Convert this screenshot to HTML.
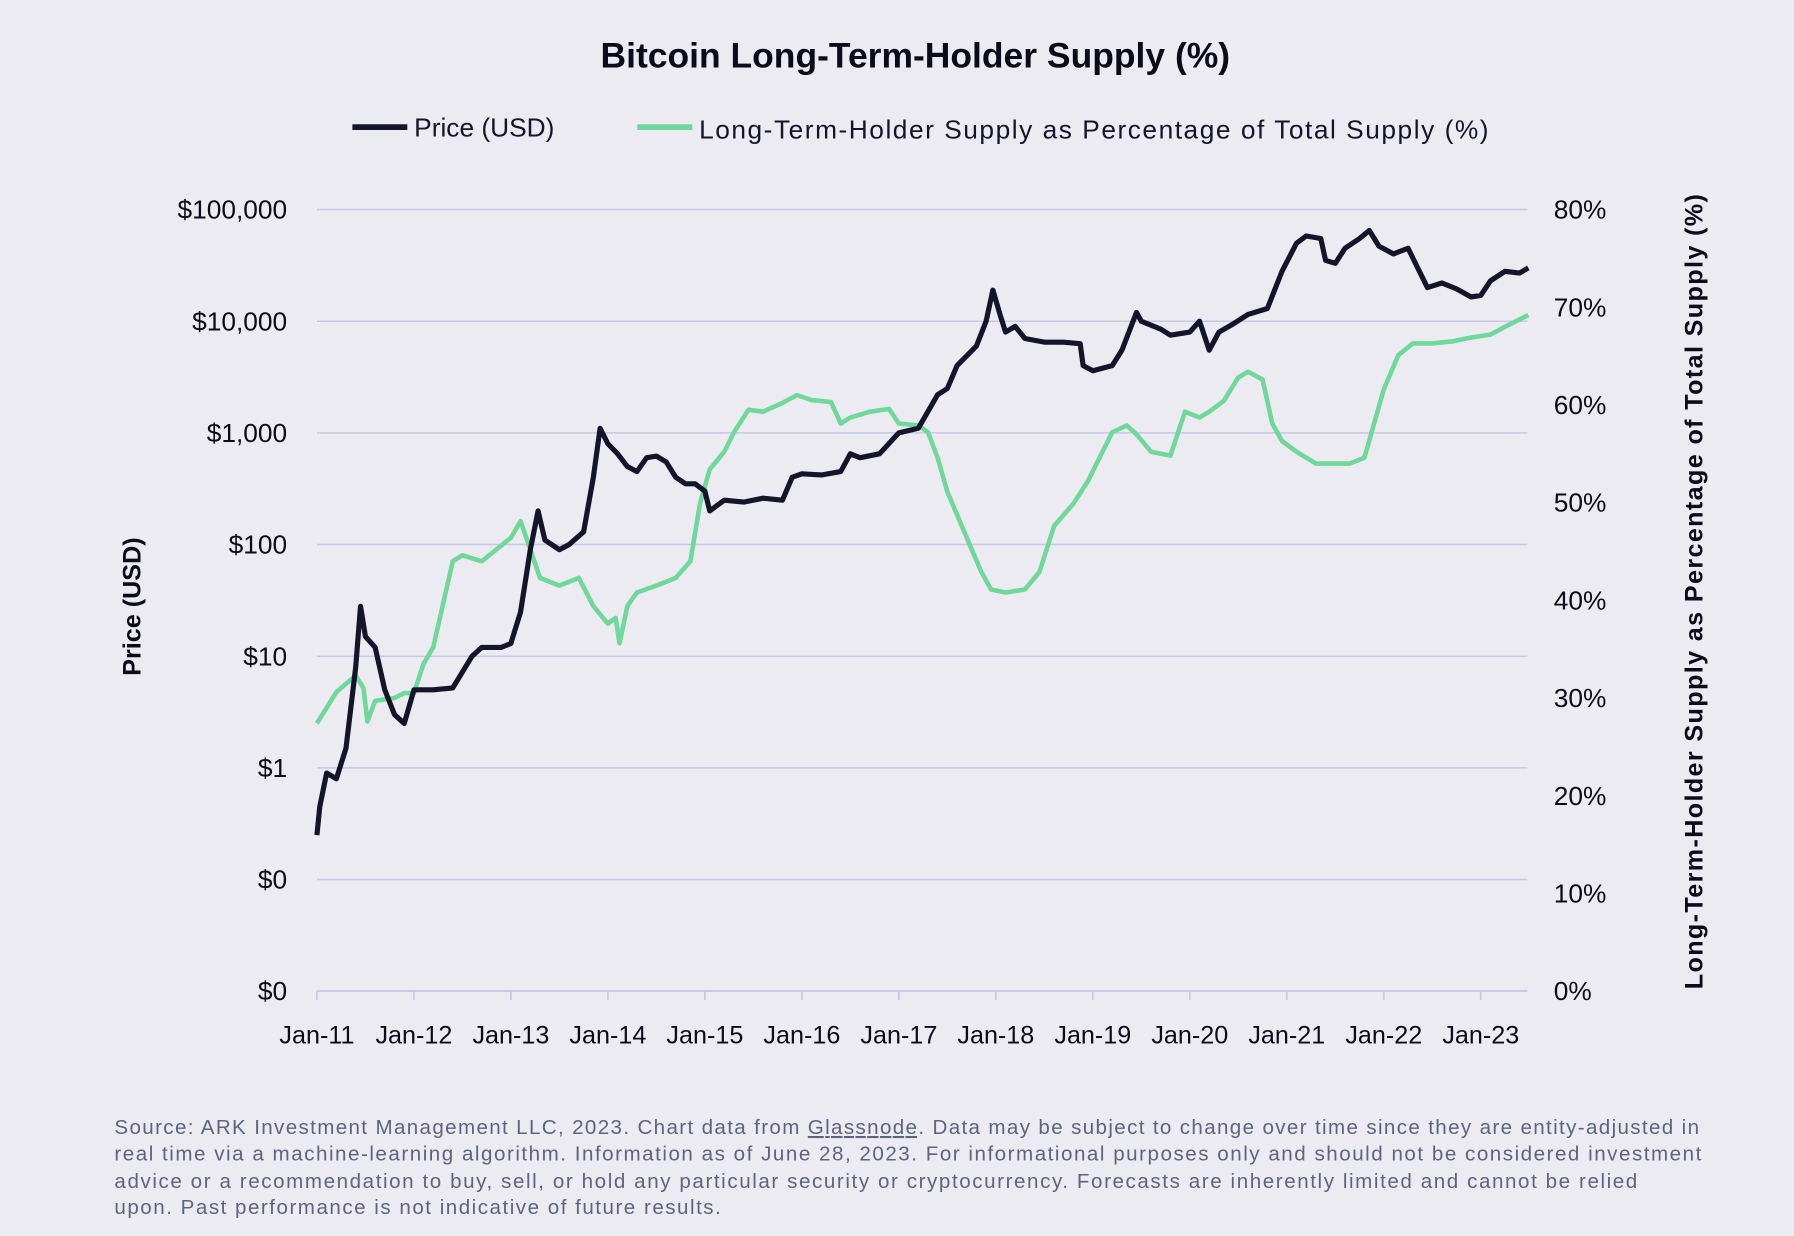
<!DOCTYPE html>
<html><head><meta charset="utf-8"><style>
html,body{margin:0;padding:0;background:#ebebf1;}
svg{display:block;font-family:"Liberation Sans",sans-serif;}
</style></head><body>
<svg id="chart" width="1794" height="1236" viewBox="0 0 1568 1080" xmlns="http://www.w3.org/2000/svg">
<rect width="1568" height="1080" fill="#ebebf1"/>
<text x="800" y="59" text-anchor="middle" font-size="31" font-weight="bold" fill="#0b0b1a">Bitcoin Long-Term-Holder Supply (%)</text>
<g>
<line x1="308" y1="111" x2="356" y2="111" stroke="#14142b" stroke-width="5"/>
<text x="362" y="119" font-size="23" fill="#14142b">Price (USD)</text>
<line x1="557" y1="111" x2="605" y2="111" stroke="#6fd89a" stroke-width="5"/>
<text x="611" y="121" font-size="23" fill="#14142b" textLength="690">Long-Term-Holder Supply as Percentage of Total Supply (%)</text>
</g>
<g id="grid"></g>
<g id="axes"></g>
<g id="series"></g>
<text transform="translate(123,530) rotate(-90)" text-anchor="middle" font-size="22" font-weight="bold" fill="#0b0b1a">Price (USD)</text>
<text transform="translate(1488,517) rotate(-90)" text-anchor="middle" font-size="22" font-weight="bold" fill="#0b0b1a" textLength="695">Long-Term-Holder Supply as Percentage of Total Supply (%)</text>
<g font-size="18" fill="#5e6480">
<text x="100" y="991" textLength="1385">Source: ARK Investment Management LLC, 2023. Chart data from <tspan text-decoration="underline">Glassnode</tspan>. Data may be subject to change over time since they are entity-adjusted in</text>
<text x="100" y="1014" textLength="1387">real time via a machine-learning algorithm. Information as of June 28, 2023. For informational purposes only and should not be considered investment</text>
<text x="100" y="1038" textLength="1331">advice or a recommendation to buy, sell, or hold any particular security or cryptocurrency. Forecasts are inherently limited and cannot be relied</text>
<text x="100" y="1061" textLength="530">upon. Past performance is not indicative of future results.</text>
</g>
</svg>
<script>
const yearTicks=["Jan-11","Jan-12","Jan-13","Jan-14","Jan-15","Jan-16","Jan-17","Jan-18","Jan-19","Jan-20","Jan-21","Jan-22","Jan-23"];
const priceTickVals=[0.01,0.1,1,10,100,1000,10000,100000];
const priceTickLabels=["$0","$0","$1","$10","$100","$1,000","$10,000","$100,000"];
const pctTicks=[0,10,20,30,40,50,60,70,80];
const priceDates=[2011.0,2011.03,2011.1,2011.2,2011.3,2011.4,2011.45,2011.5,2011.6,2011.7,2011.8,2011.9,2012.0,2012.2,2012.4,2012.6,2012.7,2012.9,2013.0,2013.1,2013.2,2013.28,2013.35,2013.5,2013.6,2013.75,2013.85,2013.92,2014.0,2014.1,2014.2,2014.3,2014.4,2014.5,2014.6,2014.7,2014.8,2014.9,2015.0,2015.05,2015.2,2015.4,2015.6,2015.8,2015.9,2016.0,2016.2,2016.4,2016.5,2016.6,2016.8,2016.95,2017.0,2017.2,2017.4,2017.5,2017.6,2017.8,2017.9,2017.97,2018.05,2018.1,2018.2,2018.3,2018.5,2018.7,2018.87,2018.9,2019.0,2019.2,2019.3,2019.45,2019.5,2019.7,2019.8,2020.0,2020.1,2020.2,2020.3,2020.45,2020.6,2020.8,2020.95,2021.1,2021.2,2021.35,2021.4,2021.5,2021.6,2021.75,2021.85,2021.95,2022.1,2022.25,2022.35,2022.45,2022.6,2022.75,2022.9,2023.0,2023.1,2023.25,2023.4,2023.49];
const priceValues=[0.25,0.45,0.9,0.8,1.5,8,28,15,12,5,3,2.5,5,5,5.2,10,12,12,13,25,90,200,110,90,100,130,400,1100,800,650,500,450,600,620,550,400,350,350,300,200,250,240,260,250,400,430,420,450,650,600,650,900,1000,1100,2200,2500,4000,6000,10000,19000,11000,8000,9000,7000,6500,6500,6300,4000,3600,4000,5500,12000,10000,8500,7500,8000,10000,5500,8000,9500,11500,13000,28000,50000,58000,55000,35000,33000,45000,55000,65000,47000,40000,45000,30000,20000,22000,19500,16500,17000,23000,28000,27000,30000];
const lthDates=[2011.0,2011.2,2011.4,2011.48,2011.52,2011.6,2011.8,2011.9,2012.0,2012.1,2012.2,2012.4,2012.5,2012.7,2013.0,2013.1,2013.2,2013.3,2013.5,2013.7,2013.85,2014.0,2014.08,2014.12,2014.2,2014.3,2014.5,2014.7,2014.85,2014.95,2015.05,2015.2,2015.3,2015.45,2015.6,2015.8,2015.95,2016.1,2016.3,2016.4,2016.5,2016.7,2016.9,2017.0,2017.2,2017.3,2017.4,2017.5,2017.7,2017.85,2017.95,2018.1,2018.3,2018.45,2018.6,2018.8,2018.95,2019.1,2019.2,2019.35,2019.45,2019.6,2019.8,2019.95,2020.1,2020.2,2020.35,2020.5,2020.6,2020.75,2020.85,2020.95,2021.1,2021.3,2021.5,2021.65,2021.8,2021.9,2022.0,2022.15,2022.3,2022.5,2022.7,2022.9,2023.1,2023.25,2023.49];
const lthValues=[27.4,30.6,32.3,31,27.6,29.7,30,30.5,30.5,33.5,35.2,44,44.6,44,46.4,48.1,45.2,42.3,41.5,42.3,39.4,37.6,38.2,35.6,39.4,40.8,41.5,42.3,44,49.9,53.4,55.2,57.2,59.5,59.3,60.2,61,60.5,60.3,58.1,58.7,59.3,59.6,58.1,57.9,57.2,54.6,51.1,46.4,42.9,41.1,40.8,41.1,42.9,47.6,49.9,52.2,55.2,57.2,57.9,57,55.2,54.8,59.3,58.7,59.3,60.4,62.8,63.4,62.6,58.1,56.3,55.2,54,54,54,54.6,58.1,61.6,65.1,66.3,66.3,66.5,66.9,67.2,68,69.2];
const NS="http://www.w3.org/2000/svg";
const X0=277,X1=1335,Y100k=183,YSTEP=97.6,YBOT=866,PPX=(866-183)/80;
function xScale(d){return X0+(d-2011)*84.77;}
function yPrice(v){return Y100k+(5-Math.log10(v))*YSTEP;}
function yPct(p){return YBOT-p*PPX;}
function mk(t,a,parent){const e=document.createElementNS(NS,t);for(const k in a)e.setAttribute(k,a[k]);parent.appendChild(e);return e;}
const grid=document.getElementById('grid'),axes=document.getElementById('axes'),series=document.getElementById('series');
priceTickVals.forEach((v,i)=>{
  const y=i===0?YBOT:yPrice(v);
  const g=mk('line',{x1:X0,x2:X1,y1:y,y2:y,stroke:'#c8c8e6','stroke-width':1.3},grid);
  
  
  const t=mk('text',{x:251,y:y+8,'text-anchor':'end','font-size':23,fill:'#0b0b1a'},axes);
  t.textContent=priceTickLabels[i];
  
  
});
pctTicks.forEach(p=>{
  const t=mk('text',{x:1358,y:yPct(p)+8,'font-size':23,fill:'#0b0b1a'},axes);
  t.textContent=p+'%';
  
  
});
mk('line',{x1:X0,x2:X1,y1:YBOT,y2:YBOT,stroke:'#c8c8e6','stroke-width':1.5},axes);
yearTicks.forEach((lab,i)=>{
  const x=xScale(2011+i);
  const tk=mk('line',{x1:x,x2:x,y1:YBOT,y2:YBOT+8,stroke:'#c8c8e6','stroke-width':1.5},axes);
  
  
  const t=mk('text',{x:x,y:912,'text-anchor':'middle','font-size':22,fill:'#0b0b1a'},axes);
  t.textContent=lab;
  
  
});
const lthPts=lthDates.map((d,i)=>xScale(d).toFixed(1)+','+yPct(lthValues[i]).toFixed(1)).join(' ');
const lth=mk('polyline',{points:lthPts,fill:'none',stroke:'#6fd89a','stroke-width':4,'stroke-linejoin':'round'},series);


const pPts=priceDates.map((d,i)=>xScale(d).toFixed(1)+','+yPrice(priceValues[i]).toFixed(1)).join(' ');
const pl=mk('polyline',{points:pPts,fill:'none',stroke:'#14142b','stroke-width':4.5,'stroke-linejoin':'round'},series);


</script>
</body></html>
